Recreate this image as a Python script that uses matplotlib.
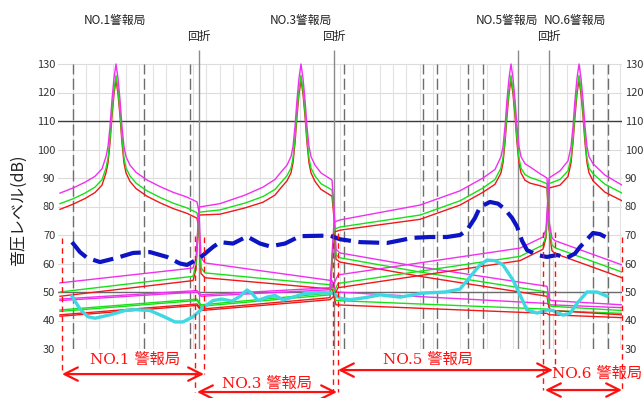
import matplotlib.pyplot as plt
import numpy as np

plt.rcParams["font.family"] = ["Noto Sans CJK JP", "DejaVu Sans"]

# distance along the route (relative units) and sound pressure levels in dB
station_names = ["NO.1警報局", "NO.3警報局", "NO.5警報局", "NO.6警報局"]
station_pos = [55, 241, 447, 515]
diffraction_pos = [139, 274, 489]

no1_d = [0, 13, 25, 35, 42, 46, 48, 50, 52, 54, 56, 58, 60, 62, 64, 66, 70, 76, 87, 100,
         113, 127, 137, 139, 141, 145, 210, 272, 274, 276, 380, 487, 489, 491, 562]
no1_mag = [84.7, 86.5, 88.5, 90.6, 93.2, 97.5, 101, 108, 117.5, 125, 130, 125, 117.5, 108, 101, 97.5, 94.5, 92, 89.3, 87,
           85, 83.3, 81.6, 78, 62, 60.2, 57, 54, 52, 50, 48, 46, 45.5, 45.5, 44.5]
no1_grn = [81, 82.7, 84.7, 86.8, 89.4, 93.5, 97, 104, 113.5, 121, 126, 121, 113.5, 104, 97, 93.5, 90.7, 88.2, 85.5, 83.2,
           81.2, 79.5, 77.8, 74, 58.5, 56.7, 54.5, 52.5, 50, 47, 45.5, 44, 43.5, 43.5, 42.5]
no1_red = [79, 80.8, 82.8, 84.9, 87.5, 91.8, 95.3, 102.3, 111.8, 119.5, 124.5, 119.5, 111.8, 102.3, 95.3, 91.8, 88.8, 86.3, 83.6, 81.3,
           79.3, 77.6, 75.9, 72, 56.5, 55, 53, 51, 48.5, 45.5, 44, 42.5, 42, 42, 41]

no3_d = [0, 133, 136, 139, 160, 185, 203, 215, 222, 227, 231, 233, 235, 237, 239, 241, 243, 245, 247, 249,
         251, 255, 261, 272, 274, 276, 280, 360, 487, 489, 491, 562]
no3_mag = [53.2, 58.4, 62, 79.8, 81, 84, 86.8, 89.5, 92.5, 94.5, 97.5, 101, 108, 117.5, 125, 130, 125, 117.5, 108, 101,
           97.5, 94.5, 91.8, 89.3, 80, 65, 63.7, 58.8, 52, 48, 47, 45.5]
no3_grn = [50, 55.5, 59.5, 78, 78.8, 81.2, 83.5, 86, 88.8, 90.8, 93.5, 97, 104, 113.5, 121, 126, 121, 113.5, 104, 97,
           93.5, 90.7, 88, 85.8, 78, 63, 62, 57, 50, 46, 45, 43.5]
no3_red = [48.5, 54, 58, 77, 77.3, 79.5, 81.5, 84, 87, 89, 91.8, 95.3, 102.3, 111.8, 119.5, 124.5, 119.5, 111.8, 102.3, 95.3,
           91.8, 88.8, 86, 83.6, 76, 61.5, 60.5, 55.5, 48.5, 44.5, 43.5, 42]

no5_d = [0, 137, 141, 270, 274, 280, 360, 400, 423, 435, 441, 443, 445, 447, 449, 451, 453, 455, 457, 459,
         461, 465, 470, 480, 487, 489, 492, 495, 562]
no5_mag = [47.5, 50.5, 49, 51.5, 74.5, 75.3, 80.5, 85.5, 90, 93, 97.5, 101, 108, 117.5, 125, 130, 125, 117.5, 108, 101,
           97.5, 95, 93.9, 91.5, 90, 75, 69, 68, 59.5]
no5_grn = [43.7, 47.5, 45.5, 49.6, 72, 72.8, 77, 82, 86.5, 89.5, 93.5, 97, 104, 113.5, 121, 126, 121, 113.5, 104, 97,
           93.5, 91.2, 90.2, 89, 88, 73, 66.5, 65.5, 57]
no5_red = [42, 45.8, 44, 48, 71, 71.7, 75.5, 80.5, 85, 87.8, 91.8, 95.3, 102.3, 111.8, 119.5, 124.5, 119.5, 111.8, 102.3, 95.3,
           91.8, 89.2, 88.2, 87.3, 86.5, 72, 64.5, 63.5, 55]

no6_d = [0, 137, 141, 270, 274, 278, 460, 483, 486, 489, 500, 508, 511, 513, 515, 517, 519, 521, 523, 525,
         527, 529, 533, 545, 562]
no6_mag = [47, 50, 48.5, 50.8, 53, 56, 65.4, 69.3, 72, 90, 92.5, 96, 101, 108, 117.5, 125, 130, 125, 117.5, 108,
           101, 97.5, 95, 91, 87.5]
no6_grn = [43.2, 47, 45, 49, 50, 53, 62.5, 66.5, 70, 88, 89.5, 92.5, 97, 104, 113.5, 121, 126, 121, 113.5, 104,
           97, 93.5, 91.5, 87.8, 84.7]
no6_red = [41.5, 45.3, 43.5, 47.3, 48.5, 51.5, 61, 65, 69, 86.5, 87.5, 90.5, 95.3, 102.3, 111.8, 119.5, 124.5, 119.5, 111.8, 102.3,
           95.3, 91.8, 89, 85, 82]

# measured levels
meas_d = [12, 20, 28, 35, 50, 65, 75, 90, 103, 115, 123, 133, 143, 153, 162, 172, 180, 187, 192, 198,
          207, 215, 223, 233, 245, 260, 273, 280, 290, 305, 320, 340, 363, 385, 400, 410, 420, 427, 435, 443,
          453, 460, 467, 477, 487, 493, 503, 510, 517, 527, 537, 547]
meas_db = [48.5, 44, 41.3, 40.8, 42, 43.5, 43.8, 43.5, 41.5, 39.5, 39.5, 41.3, 44.4, 47, 47.5, 46.8, 48.5, 50.7, 49.5, 47,
           48.2, 48.8, 47.2, 48.2, 49.5, 49.8, 49.6, 47.8, 47.3, 48, 49, 48.2, 49.6, 50, 51, 55.3, 59.5, 61.2, 61, 59.5,
           54.2, 49, 43.7, 42.6, 43.7, 43.5, 41.9, 42.5, 46, 50, 50, 48.5]

# background + 20 dB reference
ref_d = [12, 20, 27, 40, 57, 73, 90, 107, 120, 127, 140, 153, 160, 173, 187, 200, 210, 225, 240, 270,
         280, 300, 327, 353, 370, 387, 400, 407, 415, 420, 430, 438, 445, 452, 457, 462, 467, 477, 487, 497,
         507, 515, 520, 533, 540, 547]
ref_db = [67.5, 64, 62, 60.5, 62, 63.7, 64, 62.3, 60, 59.5, 62, 65.8, 67.5, 67, 69.5, 67, 66, 67, 69.6, 69.8,
          68.5, 67.5, 67.2, 69, 69.3, 69.3, 70, 71.7, 76, 79.8, 81.6, 81, 79, 76, 73, 68, 64.7, 63, 62.3, 63,
          62, 63.5, 65.8, 70.7, 70.3, 69]

# service area of each station
area_names = ["NO.1 警報局", "NO.3 警報局", "NO.5 警報局", "NO.6 警報局"]
area_start = [2, 137, 278, 485]
area_end = [144, 277, 493, 562]

fig = plt.figure(figsize=(6.43, 3.98), dpi=100)
ax = fig.add_axes([58 / 643, 49 / 398, 564 / 643, 299.25 / 398])
ax.set_xlim(-2, 562)
ax.set_ylim(30, 135)

# grid
for y in range(30, 131, 10):
    ax.axhline(y, color="#dcdcdc", lw=0.8, zorder=0)
ax.axhline(110, color="#3c3c3c", lw=1.0, zorder=0.5)
ax.axhline(50, color="#6a6a6a", lw=1.0, zorder=0.5)
ax.vlines(np.arange(12.7, 562, 13.35), 30, 130, color="#e2e2e2", lw=0.8, zorder=0)
ax.vlines([13, 84, 130, 284, 363, 377, 408, 423, 533, 548], 30, 130,
          color="#6e6e6e", lw=1.0, linestyles=(0, (8, 3)), zorder=0.5)
ax.vlines(diffraction_pos + [458], 30, 135, color="#8a8a8a", lw=1.0, zorder=0.5)

# predicted levels per station
for d, mag, grn, red in [(no1_d, no1_mag, no1_grn, no1_red),
                         (no3_d, no3_mag, no3_grn, no3_red),
                         (no5_d, no5_mag, no5_grn, no5_red),
                         (no6_d, no6_mag, no6_grn, no6_red)]:
    ax.plot(d, red, color="#f01818", lw=1.0, zorder=2)
    ax.plot(d, grn, color="#18e018", lw=1.0, zorder=2)
    ax.plot(d, mag, color="#f030f0", lw=1.0, zorder=2)

ax.plot(ref_d, ref_db, color="#0c14c4", lw=3.0, dashes=(5.0, 1.8), zorder=3)
ax.plot(meas_d, meas_db, color="#3ed8e2", lw=2.4, zorder=3)

ax.set_yticks(range(30, 131, 10))
ax.set_xticks([])
ax.tick_params(axis="y", length=0, labelsize=8, labelcolor="#333333",
               labelright=True, pad=2)
for s in ax.spines.values():
    s.set_visible(False)

# station names and diffraction points above the plot
for name, pos in zip(station_names, station_pos):
    ax.text(pos, 145.2, name, ha="center", va="center",
            fontsize=8.5, color="#222222", clip_on=False)
for pos in diffraction_pos:
    ax.text(pos, 139.6, "回折", ha="center", va="center", fontsize=8.5,
            color="#222222", clip_on=False)

# service areas below the plot
red_lines = [(2, 68.9, 21.2), (135, 69.6, 14.9), (144, 69.3, 21.2), (273, 70.7, 14.9),
             (278, 70.7, 14.9), (483, 71.0, 15.6), (495, 71.0, 22.6), (562, 69.3, 15.6)]
for x, top, bottom in red_lines:
    ax.plot([x, x], [top, bottom], color="#ff1010", lw=1.0, dashes=(4, 3),
            clip_on=False, zorder=4)

arrow_y = [21.2, 14.9, 22.6, 15.6]
label_y = [26.1, 17.9, 26.1, 21.1]
label_x = [75, 207, 368, 537]
for name, x0, x1, ya, yl, xl in zip(area_names, area_start, area_end, arrow_y, label_y, label_x):
    ax.annotate("", xy=(x0, ya), xytext=(x1, ya), annotation_clip=False,
                arrowprops=dict(arrowstyle="<->,head_length=0.8,head_width=0.4",
                                color="#ff1010", lw=1.6, mutation_scale=12,
                                shrinkA=0, shrinkB=0))
    ax.text(xl, yl, name, ha="center", va="center", fontsize=11, color="#ff1010",
            family=["DejaVu Serif", "Noto Sans CJK JP"], clip_on=False)

fig.text(18 / 643, 1 - 210 / 398, "音圧レベル(dB)", rotation=90, ha="center",
         va="center", fontsize=11.5, color="#222222")

fig.savefig("out.png", dpi=100)
